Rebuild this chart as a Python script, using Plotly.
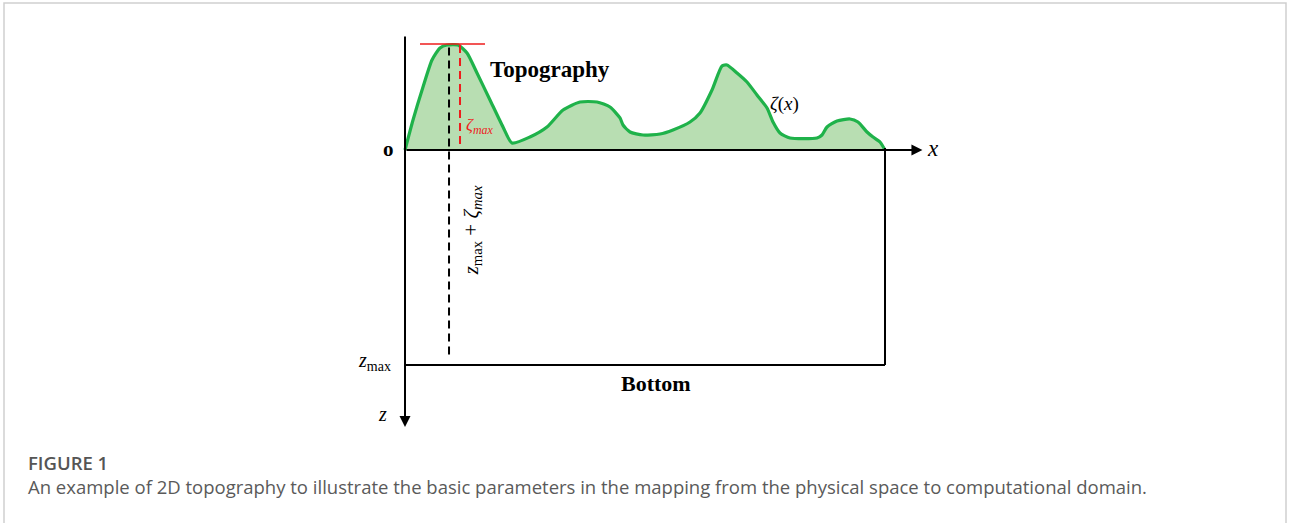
import plotly.graph_objects as go

# ---- data (physical units; domain length 10, depth z_max) ----
topo_x = [0, 0.167, 0.375, 0.5625, 0.729, 0.875, 1.104, 1.292, 1.5, 1.771, 2.042, 2.229,
          2.604, 2.958, 3.292, 3.646, 4.0, 4.271, 4.479, 4.542, 4.688, 4.958, 5.3125,
          5.583, 5.9375, 6.146, 6.396, 6.604, 6.708, 6.917, 7.125, 7.333, 7.542, 7.667,
          7.8125, 8.021, 8.583, 8.6875, 8.792, 9.0, 9.271, 9.4375, 9.625, 9.75, 9.896, 10.0]
topo_h = [0, 0.625, 1.3125, 1.875, 2.125, 2.1875, 2.1875, 2.021, 1.604, 1.042, 0.479, 0.146,
          0.271, 0.479, 0.833, 1.0, 1.0, 0.896, 0.667, 0.521, 0.375, 0.3125, 0.333,
          0.417, 0.583, 0.771, 1.25, 1.75, 1.771, 1.604, 1.417, 1.146, 0.875, 0.583,
          0.354, 0.25, 0.25, 0.3125, 0.479, 0.604, 0.646, 0.583, 0.375, 0.271, 0.167, 0.0]
domain_length = 10.0
z_max = 4.479
zeta_max = 2.1875
x_peak_black = 0.917
x_peak_red = 1.146
red_cap = [0.3125, 1.667]
x_axis_end = 10.78
z_axis_top = 2.396
z_axis_bottom = -5.77

caption_title = "FIGURE 1"
caption_text = ("An example of 2D topography to illustrate the basic parameters in the mapping "
                "from the physical space to computational domain.")

SERIF = "Liberation Serif"
GREEN_LINE = "#1fb24a"
GREEN_FILL = "#b8deb2"

fig = go.Figure()
fig.add_trace(go.Scatter(x=topo_x, y=topo_h, mode="lines", fill="tozeroy",
                         fillcolor=GREEN_FILL,
                         line=dict(color=GREEN_LINE, width=3.2, shape="spline", smoothing=0.6),
                         hoverinfo="skip", showlegend=False))

shapes = []
# domain box (bottom and right side)
shapes.append(dict(type="line", x0=0, x1=domain_length, y0=-z_max, y1=-z_max,
                   line=dict(color="black", width=2)))
shapes.append(dict(type="line", x0=domain_length, x1=domain_length, y0=0.04, y1=-z_max,
                   line=dict(color="black", width=2)))
# black dashed z_max + zeta_max
shapes.append(dict(type="line", x0=x_peak_black, x1=x_peak_black, y0=zeta_max - 0.05, y1=-z_max + 0.17,
                   line=dict(color="black", width=2, dash="8px,5px")))
# red dashed zeta_max
shapes.append(dict(type="line", x0=x_peak_red, x1=x_peak_red, y0=zeta_max, y1=0.08,
                   line=dict(color="#ee1c1c", width=2, dash="8px,5px")))
# red cap line
shapes.append(dict(type="line", x0=red_cap[0], x1=red_cap[1], y0=zeta_max + 0.02, y1=zeta_max + 0.02,
                   line=dict(color="#ee1c1c", width=1.5)))
# figure border
shapes.append(dict(type="rect", xref="paper", yref="paper", x0=4/1290, x1=1286/1290,
                   y0=-0.1, y1=1-3/523, line=dict(color="#cfcfcf", width=1.5), layer="below"))

annotations = []
# x axis arrow
annotations.append(dict(x=x_axis_end, y=0, ax=0, ay=0, xref="x", yref="y", axref="x", ayref="y",
                        showarrow=True, arrowhead=2, arrowsize=1.1, arrowwidth=2, arrowcolor="black", text=""))
# z axis arrow
annotations.append(dict(x=0, y=z_axis_bottom, ax=0, ay=z_axis_top, xref="x", yref="y", axref="x", ayref="y",
                        showarrow=True, arrowhead=2, arrowsize=1.1, arrowwidth=2, arrowcolor="black", text=""))

def label(text, x, y, size, color="black", angle=0, family=SERIF, xanchor="center"):
    annotations.append(dict(text=text, x=x, y=y, xref="x", yref="y", showarrow=False,
                            font=dict(family=family, size=size, color=color), textangle=angle,
                            xanchor=xanchor, yanchor="middle"))

label("<b>o</b>", -0.354, 0.02, 21)
label("<b>Topography</b>", 3.02, 1.67, 23)
label("<i>ζ</i>(<i>x</i>)", 7.9, 0.96, 19)
label("<i>ζ<sub>max</sub></i>", 1.55, 0.5, 17, color="#ee1c1c")
label("<i>z</i><sub>max</sub> + <i>ζ<sub>max</sub></i>", 1.4, -1.67, 21, angle=-90)
label("<i>z</i><sub>max</sub>", -0.63, -4.4, 20)
label("<i>z</i>", -0.46, -5.5, 20)
label("<i>x</i>", 11.0, 0.03, 23)
label("<b>Bottom</b>", 5.22, -4.87, 22)

annotations.append(dict(text=caption_title, x=26/1290, y=1-462/523, xref="paper", yref="paper",
                        showarrow=False, xanchor="left", yanchor="middle",
                        font=dict(family="Open Sans", size=18.5, color="#555555", weight=600)))
annotations.append(dict(text=caption_text, x=26/1290, y=1-487/523, xref="paper", yref="paper",
                        showarrow=False, xanchor="left", yanchor="middle",
                        font=dict(family="Open Sans", size=18.5, color="#5a5a5a")))

PX = 48.0
fig.update_layout(
    width=1290, height=523, margin=dict(l=0, r=0, t=0, b=0),
    paper_bgcolor="white", plot_bgcolor="white",
    xaxis=dict(range=[-405/PX, (1290-405)/PX], visible=False, fixedrange=True),
    yaxis=dict(range=[-(523-150)/PX, 150/PX], visible=False, fixedrange=True),
    shapes=shapes, annotations=annotations, showlegend=False,
)
fig.write_html("out.html")
